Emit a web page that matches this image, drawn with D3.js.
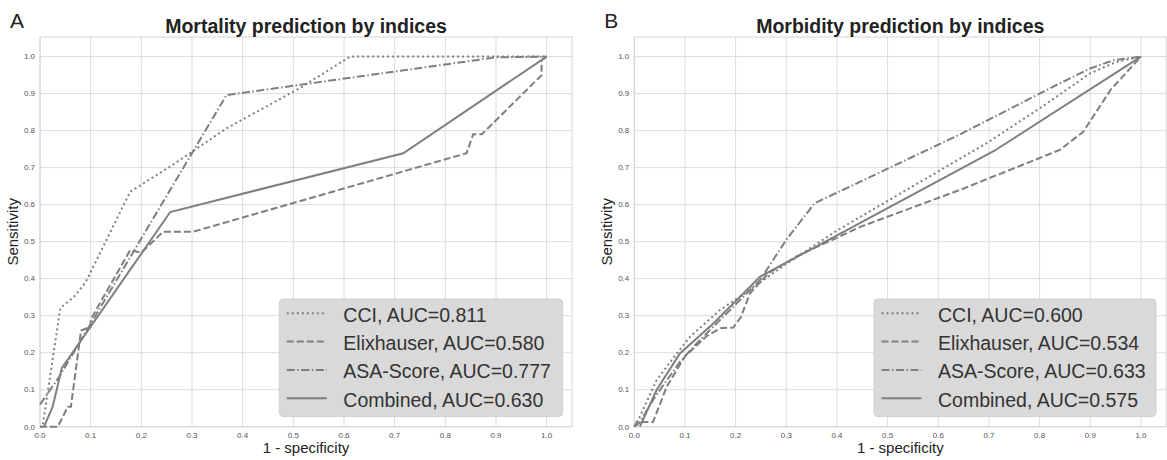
<!DOCTYPE html>
<html>
<head>
<meta charset="utf-8">
<script src="https://cdn.jsdelivr.net/npm/d3@7"></script>
<style>
  body { margin: 0; background: #fff; }
  svg { display: block; font-family: "Liberation Sans", Arial, sans-serif; }
</style>
</head>
<body>
<svg id="chart" width="1167" height="460"></svg>
<script>
// ---------- DATA ----------
const ticks = [0.0, 0.1, 0.2, 0.3, 0.4, 0.5, 0.6, 0.7, 0.8, 0.9, 1.0];
const seriesNames = ["CCI", "Elixhauser", "ASA-Score", "Combined"];

const mortalityAUC = ["0.811", "0.580", "0.777", "0.630"];
const morbidityAUC = ["0.600", "0.534", "0.633", "0.575"];

// Panel A: mortality ROC curves [1 - specificity, sensitivity]
const mortalityCCI = [[0,0],[0.005,0],[0.04,0.32],[0.07,0.355],[0.09,0.39],[0.178,0.635],[0.257,0.703],[0.368,0.806],[0.513,0.915],[0.612,1.0],[1.0,1.0]];
const mortalityElix = [[0,0],[0.035,0],[0.055,0.054],[0.061,0.054],[0.081,0.26],[0.1,0.27],[0.1,0.29],[0.178,0.477],[0.2,0.47],[0.243,0.527],[0.303,0.527],[0.842,0.739],[0.855,0.79],[0.872,0.79],[0.99,0.95],[0.99,0.99],[1.0,1.0]];
const mortalityASA = [[0,0.06],[0.038,0.135],[0.368,0.896],[0.9,0.998],[1.0,1.0]];
const mortalityComb = [[0.008,0],[0.025,0.054],[0.043,0.158],[0.257,0.58],[0.717,0.739],[1.0,1.0]];

// Panel B: morbidity ROC curves
const morbidityCCI = [[0,0],[0.012,0.03],[0.044,0.126],[0.084,0.198],[0.11,0.243],[0.169,0.315],[0.228,0.37],[0.3,0.44],[0.4,0.53],[0.5,0.61],[0.6,0.69],[0.7,0.77],[0.8,0.86],[0.9,0.955],[0.95,0.985],[1.0,1.0]];
const morbidityElix = [[0,0],[0.005,0.013],[0.037,0.013],[0.064,0.108],[0.1,0.19],[0.143,0.245],[0.17,0.266],[0.195,0.268],[0.21,0.295],[0.228,0.36],[0.265,0.415],[0.32,0.46],[0.446,0.54],[0.643,0.64],[0.84,0.748],[0.886,0.797],[0.94,0.91],[1.0,1.0]];
const morbidityASA = [[0,0],[0.01,0.01],[0.041,0.081],[0.09,0.175],[0.123,0.225],[0.169,0.288],[0.248,0.396],[0.3,0.505],[0.356,0.604],[0.446,0.662],[0.643,0.79],[0.84,0.928],[0.9,0.968],[0.945,0.99],[1.0,1.0]];
const morbidityComb = [[0.011,0],[0.044,0.099],[0.09,0.198],[0.156,0.279],[0.248,0.405],[0.71,0.745],[1.0,1.0]];

// ---------- STYLE ----------
const lineColor = "#7f7f7f";
const dashes = ["2,3", "7,3", "8,2.5,1.5,2.5", null];

const panels = [
  { letter: "A", title: "Mortality prediction by indices", left: 40, right: 572,
    series: [mortalityCCI, mortalityElix, mortalityASA, mortalityComb], auc: mortalityAUC,
    legend: { x: 279.3, w: 283.4 } },
  { letter: "B", title: "Morbidity prediction by indices", left: 634.3, right: 1166.3,
    series: [morbidityCCI, morbidityElix, morbidityASA, morbidityComb], auc: morbidityAUC,
    legend: { x: 874, w: 282 } }
];

const svg = d3.select("#chart");
const plotTop = 37, plotBottom = 426.7;

panels.forEach(p => {
  const x = d3.scaleLinear().domain([0, 1.05]).range([p.left, p.right]);
  const y = d3.scaleLinear().domain([0, 1.053]).range([plotBottom, plotTop]);
  const g = svg.append("g");

  // grid
  g.selectAll(".vg").data(ticks).join("line")
    .attr("x1", d => x(d)).attr("x2", d => x(d))
    .attr("y1", plotTop).attr("y2", plotBottom)
    .attr("stroke", "#dcdcdc").attr("stroke-width", 1);
  g.selectAll(".hg").data(ticks).join("line")
    .attr("x1", p.left).attr("x2", p.right)
    .attr("y1", d => y(d)).attr("y2", d => y(d))
    .attr("stroke", "#dcdcdc").attr("stroke-width", 1);
  // frame
  g.append("rect").attr("x", p.left).attr("y", plotTop)
    .attr("width", p.right - p.left).attr("height", plotBottom - plotTop)
    .attr("fill", "none").attr("stroke", "#d4d4d4").attr("stroke-width", 1);

  // tick labels
  const fmt = d3.format(".1f");
  g.selectAll(".yt").data(ticks).join("text")
    .attr("x", p.left - 5).attr("y", d => y(d) + 2.8)
    .attr("text-anchor", "end").attr("font-size", 8).attr("fill", "#555")
    .text(d => fmt(d));
  g.selectAll(".xt").data(ticks).join("text")
    .attr("x", d => x(d)).attr("y", plotBottom + 11.5)
    .attr("text-anchor", "middle").attr("font-size", 8).attr("fill", "#555")
    .text(d => fmt(d));

  // axis labels
  const cx = (p.left + p.right) / 2;
  g.append("text").attr("x", cx).attr("y", 453)
    .attr("text-anchor", "middle").attr("font-size", 15).attr("fill", "#222")
    .text("1 - specificity");
  g.append("text")
    .attr("transform", `translate(${p.left - 22},${(plotTop + plotBottom) / 2}) rotate(-90)`)
    .attr("text-anchor", "middle").attr("font-size", 15).attr("fill", "#222")
    .text("Sensitivity");

  // title
  g.append("text").attr("x", cx).attr("y", 33)
    .attr("text-anchor", "middle").attr("font-size", 19.5).attr("font-weight", "bold")
    .attr("fill", "#222").text(p.title);
  g.append("text").attr("x", p.left - 30).attr("y", 28.3)
    .attr("font-size", 21).attr("fill", "#222").text(p.letter);

  // lines
  const line = d3.line().x(d => x(d[0])).y(d => y(d[1]));
  p.series.forEach((s, i) => {
    g.append("path").datum(s).attr("d", line)
      .attr("fill", "none").attr("stroke", lineColor).attr("stroke-width", 2)
      .attr("stroke-dasharray", dashes[i]);
  });

  // legend
  const lg = g.append("g");
  lg.append("rect").attr("x", p.legend.x).attr("y", 299)
    .attr("width", p.legend.w).attr("height", 117.5).attr("rx", 4)
    .attr("fill", "#d9d9d9").attr("stroke", "#d0d0d0");
  seriesNames.forEach((n, i) => {
    const ly = 313.3 + i * 28.3;
    lg.append("line").attr("x1", p.legend.x + 7.5).attr("x2", p.legend.x + 47.5)
      .attr("y1", ly).attr("y2", ly)
      .attr("stroke", lineColor).attr("stroke-width", 2)
      .attr("stroke-dasharray", dashes[i]);
    lg.append("text").attr("x", p.legend.x + 64).attr("y", ly + 8.3)
      .attr("font-size", 19.5).attr("fill", "#333")
      .text(`${n}, AUC=${p.auc[i]}`);
  });
});
</script>
</body>
</html>
